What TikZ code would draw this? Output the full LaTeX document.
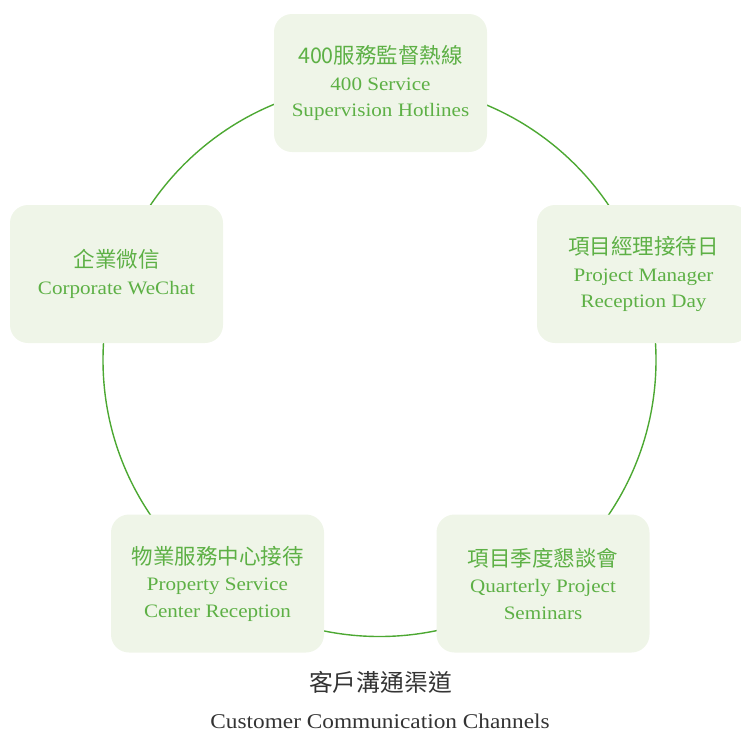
\documentclass[tikz,border=0pt]{standalone}
\usepackage{fontspec}
\setmainfont{Liberation Serif}[FakeStretch=1.11]
\newfontfamily\cjk{Noto Sans CJK TC}
\definecolor{boxfill}{HTML}{EFF5E8}
\definecolor{txtgreen}{HTML}{5DB045}
\definecolor{ringgreen}{HTML}{4CA832}
\definecolor{titlegray}{HTML}{333333}
\newcommand{\zhline}[1]{{\cjk\fontsize{21.5}{26}\selectfont #1}}
\begin{document}
\begin{tikzpicture}[x=1pt,y=-1pt,
  chan/.style={fill=boxfill, draw=none, rounded corners=18pt, minimum width=213pt, minimum height=138pt,
    text=txtgreen, align=center, font=\fontsize{19}{26.5}\selectfont, inner sep=0pt}]
\clip (0,0) rectangle (741,732);
\useasboundingbox (0,0) rectangle (741,732);
\coordinate (c) at (379.5,360);
\draw[ringgreen, line width=1.4pt] (c) circle (276.5);
\node[chan] (top) at (380.5,83) {\zhline{400服務監督熱線}\\400 Service\\Supervision Hotlines};
\node[chan] (right) at (643.5,274) {\zhline{項目經理接待日}\\Project Manager\\Reception Day};
\node[chan] (left) at (116.5,274) {\zhline{企業微信}\\Corporate WeChat};
\node[chan] (bl) at (217.5,583.5) {\zhline{物業服務中心接待}\\Property Service\\Center Reception};
\node[chan] (br) at (543,583.5) {\zhline{項目季度懇談會}\\Quarterly Project\\Seminars};
\node[text=titlegray, font=\cjk\fontsize{23.8}{28}\selectfont] (tzh) at (380.5,682) {客戶溝通渠道};
\node[text=titlegray, font=\fontsize{21}{24}\selectfont] (ten) at (380,721) {Customer Communication Channels};
\end{tikzpicture}
\end{document}
